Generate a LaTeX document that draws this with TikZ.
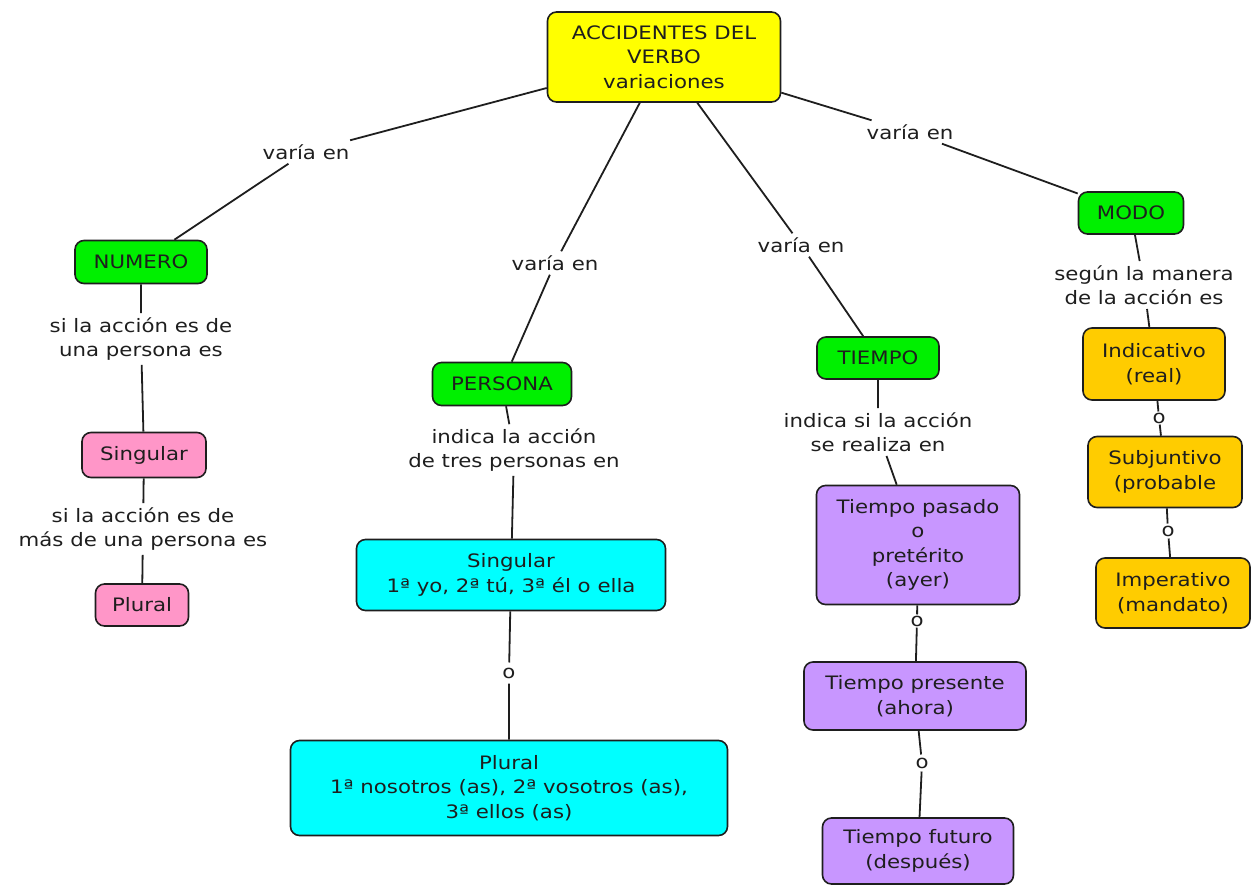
\documentclass[tikz,border=0pt]{standalone}
\usepackage{fontspec}
\setmainfont[FakeStretch=1.15]{DejaVu Sans}
\usepackage{tikz}
\usetikzlibrary{positioning}

\definecolor{amarillo}{RGB}{255,255,0}
\definecolor{verde}{RGB}{0,240,0}
\definecolor{rosa}{RGB}{255,150,200}
\definecolor{celeste}{RGB}{0,255,255}
\definecolor{lila}{RGB}{200,150,255}
\definecolor{naranja}{RGB}{255,204,0}
\definecolor{tinta}{RGB}{30,30,30}

\tikzset{
  concepto/.style={draw=tinta, line width=1.6pt, rounded corners=9pt, align=center,
    text=tinta, inner sep=3pt},
  enlace/.style={align=center, text=tinta, inner sep=4pt},
  linea/.style={draw=tinta, line width=1.8pt}
}

\begin{document}
\begin{tikzpicture}[x=1pt, y=-1pt, font=\fontsize{18.5}{24.5}\selectfont]
    \useasboundingbox (0,0) rectangle (1251,886);
    % conceptos
    \node[concepto, fill=amarillo, minimum width=233, minimum height=90] (verbo) at (664,57)
        {ACCIDENTES DEL\\VERBO\\variaciones};
    \node[concepto, fill=verde, minimum width=132, minimum height=43] (numero) at (141,262) {NUMERO};
    \node[concepto, fill=verde, minimum width=139, minimum height=43] (persona) at (502,384) {PERSONA};
    \node[concepto, fill=verde, minimum width=122, minimum height=42] (tiempo) at (878,358) {TIEMPO};
    \node[concepto, fill=verde, minimum width=105, minimum height=42] (modo) at (1131,213) {MODO};
    \node[concepto, fill=rosa, minimum width=124, minimum height=45] (nsing) at (144,455) {Singular};
    \node[concepto, fill=rosa, minimum width=93, minimum height=42] (nplur) at (142,605) {Plural};
    \node[concepto, fill=celeste, minimum width=309, minimum height=71] (psing) at (511,575)
        {Singular\\1ª yo, 2ª tú, 3ª él o ella};
    \node[concepto, fill=celeste, minimum width=437, minimum height=95] (pplur) at (509,788)
        {Plural\\1ª nosotros (as), 2ª vosotros (as),\\3ª ellos (as)};
    \node[concepto, fill=lila, minimum width=203, minimum height=119] (pasado) at (918,545)
        {Tiempo pasado\\o\\pretérito\\(ayer)};
    \node[concepto, fill=lila, minimum width=222, minimum height=68] (presente) at (915,696)
        {Tiempo presente\\(ahora)};
    \node[concepto, fill=lila, minimum width=191, minimum height=66] (futuro) at (918,851)
        {Tiempo futuro\\(después)};
    \node[concepto, fill=naranja, minimum width=142, minimum height=72] (indic) at (1154,364)
        {Indicativo\\(real)};
    \node[concepto, fill=naranja, minimum width=154, minimum height=71] (subj) at (1165,472)
        {Subjuntivo\\(probable};
    \node[concepto, fill=naranja, minimum width=154, minimum height=70] (imper) at (1173,593)
        {Imperativo\\(mandato)};

    % enlaces
    \node[enlace] (e1) at (306,152) {varía en};
    \node[enlace] (e2) at (555,263) {varía en};
    \node[enlace] (e3) at (801,245) {varía en};
    \node[enlace] (e4) at (910,132) {varía en};
    \node[enlace] (e5) at (141,339) {si la acción es de\\una persona es};
    \node[enlace] (e6) at (143,529) {si la acción es de\\más de una persona es};
    \node[enlace] (e7) at (514,450) {indica la acción\\de tres personas en};
    \node[enlace] (e8) at (878,432) {indica si la acción\\se realiza en};
    \node[enlace] (e9) at (1144,285) {según la manera\\de la acción es};
    \node[enlace, inner sep=5pt] (o1) at (509,673) {o};
    \node[enlace, inner sep=1pt] (o2) at (917,621) {o};
    \node[enlace, inner sep=3pt] (o3) at (922,763) {o};
    \node[enlace, inner sep=1pt] (o4) at (1159,418) {o};
    \node[enlace, inner sep=2pt] (o5) at (1168,531) {o};

    % lineas
    \draw[linea] (verbo) -- (e1) -- (numero);
    \draw[linea] (verbo) -- (e2) -- (persona);
    \draw[linea] (verbo) -- (e3) -- (tiempo);
    \draw[linea] (verbo) -- (e4) -- (modo);
    \draw[linea] (numero) -- (e5) -- (nsing);
    \draw[linea] (nsing) -- (e6) -- (nplur);
    \draw[linea] (persona) -- (e7) -- (psing);
    \draw[linea] (psing) -- (o1) -- (pplur);
    \draw[linea] (tiempo) -- (e8) -- (pasado);
    \draw[linea] (pasado) -- (o2) -- (presente);
    \draw[linea] (presente) -- (o3) -- (futuro);
    \draw[linea] (modo) -- (e9) -- (indic);
    \draw[linea] (indic) -- (o4) -- (subj);
    \draw[linea] (subj) -- (o5) -- (imper);
\end{tikzpicture}
\end{document}
